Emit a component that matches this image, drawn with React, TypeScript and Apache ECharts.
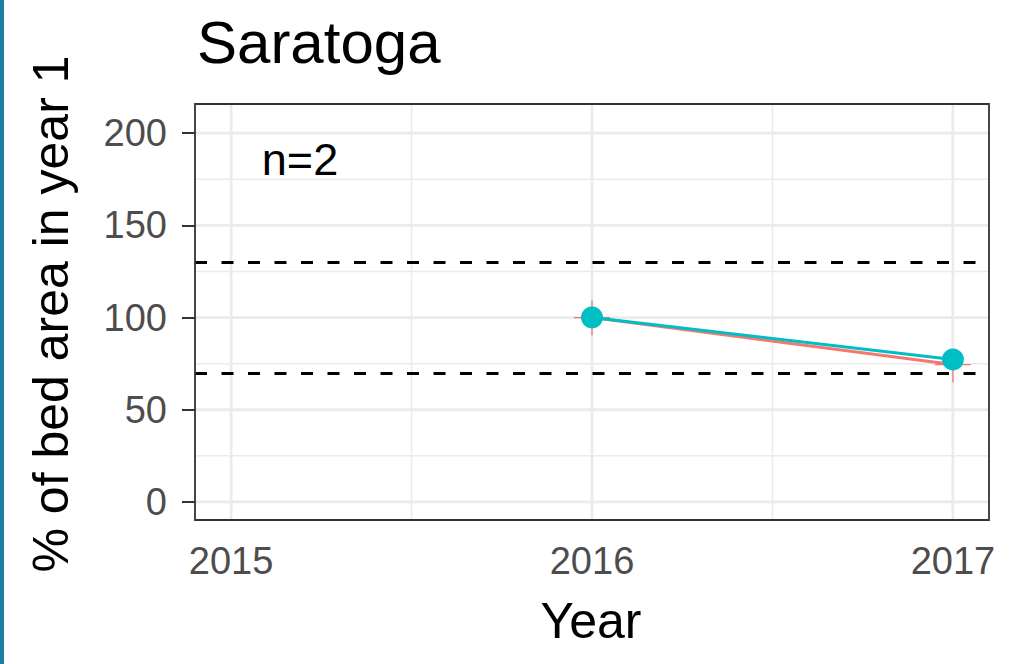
import React, { useEffect, useRef } from "react";
import * as echarts from "echarts";

// ---- data ----
const years = [2016, 2017];
const tealValues = [100, 77.2];
const redValues = [100, 74.5];
const redLow = [90.2, 64.7];
const redHigh = [109.2, 82.1];
const xTicks = [2015, 2016, 2017];
const xMinor = [2015.5, 2016.5];
const yTicks = [0, 50, 100, 150, 200];
const yMinor = [25, 75, 125, 175];
const refLines = [70, 130];
const xRange = [2014.9, 2017.1];
const yRange = [-9.8, 215.8];
const titleText = "Saratoga";
const nLabel = "n=2";
const xTitle = "Year";
const yTitle = "% of bed area in year 1";

const FONT = "'Liberation Sans', Arial, sans-serif";

export default function App() {
  const ref = useRef<HTMLDivElement>(null);
  useEffect(() => {
    document.body.style.margin = "0";
    const chart = echarts.init(ref.current!, undefined, { renderer: "svg" });

    const vLines = [
      ...xTicks.map((v) => [v, yRange[0], 1]),
      ...xMinor.map((v) => [v, yRange[0], 0]),
    ];
    const hLines = [
      ...yTicks.map((v) => [xRange[0], v, 1]),
      ...yMinor.map((v) => [xRange[0], v, 0]),
    ];
    const errData = years.map((y, i) => [y, redValues[i], redLow[i], redHigh[i]]);

    const option: any = {
      animation: false,
      backgroundColor: "#ffffff",
      grid: {
        left: 195,
        top: 104,
        right: 23,
        bottom: 144,
        show: true,
        borderColor: "#333333",
        borderWidth: 1.8,
        backgroundColor: "transparent",
        z: 10,
      },
      xAxis: {
        type: "value",
        min: xRange[0],
        max: xRange[1],
        axisLine: { show: false },
        splitLine: { show: false },
        axisTick: {
          show: true,
          customValues: xTicks,
          length: 13,
          lineStyle: { color: "#333333", width: 2 },
        },
        axisLabel: {
          customValues: xTicks,
          fontSize: 38,
          color: "#4D4D4D",
          margin: 22,
          fontFamily: FONT,
          formatter: (v: number) => String(v),
        },
      },
      yAxis: {
        type: "value",
        min: yRange[0],
        max: yRange[1],
        axisLine: { show: false },
        splitLine: { show: false },
        axisTick: {
          show: true,
          customValues: yTicks,
          length: 13,
          lineStyle: { color: "#333333", width: 2 },
        },
        axisLabel: {
          customValues: yTicks,
          fontSize: 38,
          color: "#4D4D4D",
          margin: 28,
          fontFamily: FONT,
        },
      },
      graphic: [
        {
          type: "rect",
          shape: { x: 0, y: 0, width: 4, height: 664 },
          style: { fill: "#1f7ea6" },
        },
        {
          type: "text",
          x: 197,
          y: 42,
          style: {
            text: titleText,
            font: `60px ${FONT}`,
            fill: "#000000",
            textAlign: "left",
            textVerticalAlign: "middle",
          },
        },
        {
          type: "text",
          x: 591,
          y: 621,
          style: {
            text: xTitle,
            font: `50px ${FONT}`,
            fill: "#000000",
            textAlign: "center",
            textVerticalAlign: "middle",
          },
        },
        {
          type: "text",
          x: 51,
          y: 314,
          rotation: Math.PI / 2,
          style: {
            text: yTitle,
            font: `50px ${FONT}`,
            fill: "#000000",
            textAlign: "center",
            textVerticalAlign: "middle",
          },
        },
        {
          type: "text",
          x: 300,
          y: 159,
          z: 100,
          style: {
            text: nLabel,
            font: `45px ${FONT}`,
            fill: "#000000",
            textAlign: "center",
            textVerticalAlign: "middle",
          },
        },
      ],
      series: [
        {
          type: "custom",
          z: 1,
          silent: true,
          data: vLines,
          encode: { x: 0, y: 1 },
          renderItem: (params: any, api: any) => {
            const v = api.value(0);
            const major = api.value(2) === 1;
            const a = api.coord([v, yRange[0]]);
            const b = api.coord([v, yRange[1]]);
            return {
              type: "line",
              shape: { x1: a[0], y1: a[1], x2: b[0], y2: b[1] },
              style: { stroke: "#EBEBEB", lineWidth: major ? 2.8 : 1.5 },
            };
          },
        },
        {
          type: "custom",
          z: 1,
          silent: true,
          data: hLines,
          encode: { x: 0, y: 1 },
          renderItem: (params: any, api: any) => {
            const v = api.value(1);
            const major = api.value(2) === 1;
            const a = api.coord([xRange[0], v]);
            const b = api.coord([xRange[1], v]);
            return {
              type: "line",
              shape: { x1: a[0], y1: a[1], x2: b[0], y2: b[1] },
              style: { stroke: "#EBEBEB", lineWidth: major ? 2.8 : 1.5 },
            };
          },
        },
        {
          type: "custom",
          z: 3,
          silent: true,
          data: errData,
          encode: { x: 0, y: 1 },
          renderItem: (params: any, api: any) => {
            const x = api.value(0);
            const m = api.value(1);
            const lo = api.coord([x, api.value(2)]);
            const hi = api.coord([x, api.value(3)]);
            const l = api.coord([x - 0.05, m]);
            const r = api.coord([x + 0.05, m]);
            return {
              type: "group",
              children: [
                {
                  type: "line",
                  shape: { x1: lo[0], y1: lo[1], x2: hi[0], y2: hi[1] },
                  style: { stroke: "#F8766D", lineWidth: 1.3 },
                },
                {
                  type: "line",
                  shape: { x1: l[0], y1: l[1], x2: r[0], y2: r[1] },
                  style: { stroke: "#F8766D", lineWidth: 1.3 },
                },
              ],
            };
          },
        },
        {
          type: "line",
          z: 4,
          data: years.map((y, i) => [y, redValues[i]]),
          showSymbol: false,
          symbol: "none",
          lineStyle: { color: "#F8766D", width: 3 },
          itemStyle: { color: "#F8766D" },
          markLine: {
            silent: true,
            symbol: ["none", "none"],
            label: { show: false },
            lineStyle: { color: "#000000", type: [12, 14.5], width: 3 },
            data: refLines.map((v) => ({ yAxis: v })),
          },
        },
        {
          type: "line",
          z: 5,
          data: years.map((y, i) => [y, tealValues[i]]),
          symbol: "circle",
          symbolSize: 22,
          lineStyle: { color: "#00BFC4", width: 3 },
          itemStyle: { color: "#00BFC4" },
        },
      ],
    };
    chart.setOption(option);
    return () => chart.dispose();
  }, []);
  return <div ref={ref} style={{ width: 1012, height: 664 }} />;
}
